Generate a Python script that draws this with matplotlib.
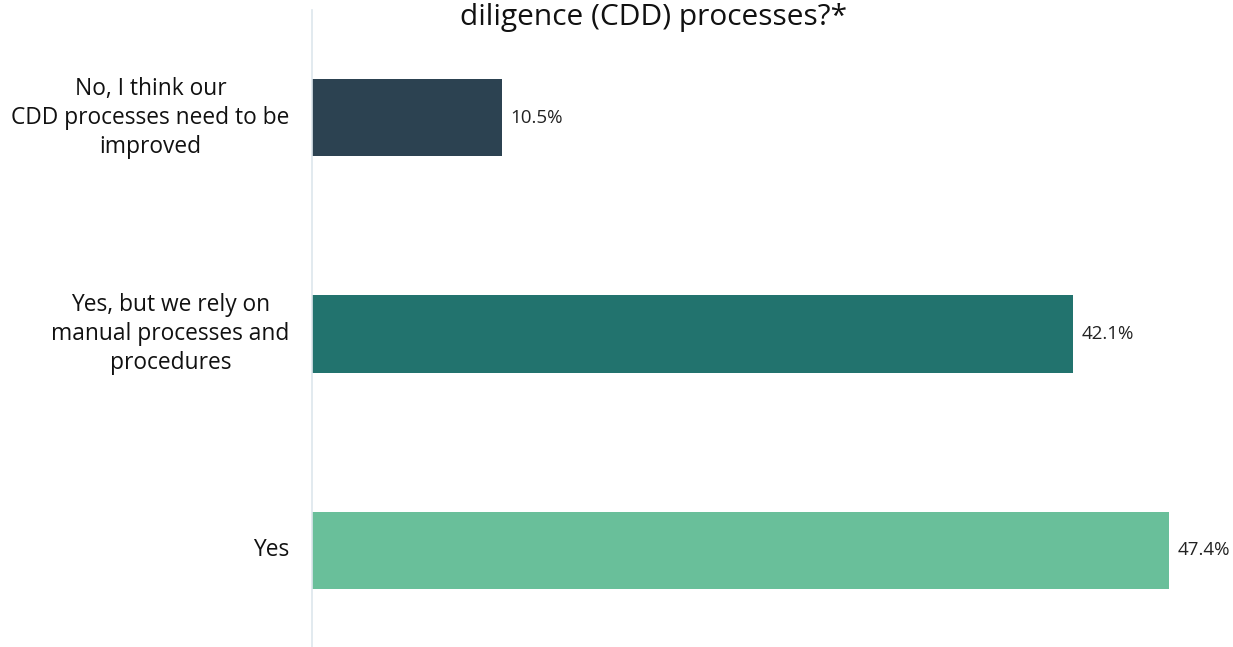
import matplotlib
matplotlib.use("Agg")
import matplotlib.pyplot as plt

categories = ["Yes", "Yes, but we rely on\nmanual processes and\nprocedures", "No, I think our\nCDD processes need to be\nimproved"]
values = [47.4, 42.1, 10.5]
value_labels = ["47.4%", "42.1%", "10.5%"]
colors = ["#69bf9a", "#22736e", "#2c4251"]
title = "diligence (CDD) processes?*"

plt.rcParams['font.family'] = ['Open Sans', 'DejaVu Sans']

fig = plt.figure(figsize=(12.33, 6.47), dpi=100)
W, H = 1233, 647
ax = fig.add_axes([312 / W, 0, (1216 - 312) / W, 1 - 10 / H])

ypos = list(range(len(categories)))
ax.barh(ypos, values, height=0.356, color=colors)
ax.set_xlim(0, 50)
ax.set_ylim(-0.446, 2.497)

for y, v, lab in zip(ypos, values, value_labels):
    ax.annotate(lab, (v, y), xytext=(6, 0), textcoords="offset points",
                va="center", ha="left", fontsize=13.5, color="#222222")

for y, cat in zip(ypos, categories):
    ax.annotate(cat, (0, y), xytext=(-16, 0), textcoords="offset points",
                va="center", ha="right", multialignment="center",
                fontsize=16.4, color="#111111", linespacing=1.28)

for s in ["top", "right", "bottom"]:
    ax.spines[s].set_visible(False)
ax.spines["left"].set_color("#dde6ec")
ax.spines["left"].set_linewidth(1.2)
ax.set_xticks([])
ax.set_yticks([])

fig.text(654 / W, 1 - 17 / H, title, ha="center", va="center", fontsize=21.5, color="#111111")

fig.savefig("out.png", dpi=100)
